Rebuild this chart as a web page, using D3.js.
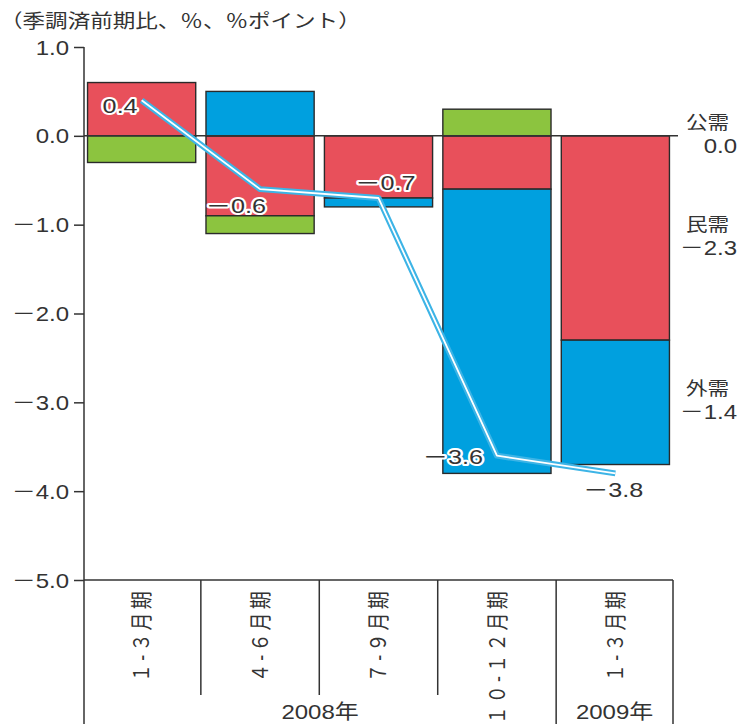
<!DOCTYPE html>
<html>
<head>
<meta charset="utf-8">
<script src="https://cdn.jsdelivr.net/npm/d3@7"></script>
<style>
  html, body { margin: 0; padding: 0; background: #fff; }
  svg { display: block; }
  text { fill: #333; font-family: "Liberation Sans", "Noto Sans CJK JP", sans-serif; }
</style>
</head>
<body>
<svg id="chart" width="744" height="724"></svg>
<script>
// Quarterly GDP growth and contributions by demand component
const periodKeys   = ["2008Q1", "2008Q2", "2008Q3", "2008Q4", "2009Q1"];
const periodLabels = ["１-３月期", "４-６月期", "７-９月期", "１０-１２月期", "１-３月期"];
const yearLabels   = ["2008年", "2009年"];
const yearSpans    = [[0, 3], [4, 4]];

const privateDemand  = [0.6, -0.9, -0.7, -0.6, -2.3];  // 民需
const externalDemand = [0.0,  0.5, -0.1, -3.2, -1.4];  // 外需
const publicDemand   = [-0.3, -0.2, 0.0,  0.3,  0.0];  // 公需
const gdpGrowth      = [0.4, -0.6, -0.7, -3.6, -3.8];  // 実質GDP成長率

const seriesNames = ["民需", "外需", "公需"];
const yTicks = [1, 0, -1, -2, -3, -4, -5];
const titleText = "（季調済前期比、％、％ポイント）";

// styling / layout
const colors = { "民需": "#e8505b", "外需": "#00a0df", "公需": "#8cc43f" };
const lineColor = "#3db4e6";
const ink = "#333";
const SX = 1.2; // horizontal text stretch
const labelOffsets = [[-4, 13], [6, 24], [37, -8], [-14, 8], [28, 24]];

const svg = d3.select("#chart");

const x = d3.scaleBand().domain(periodKeys).range([84, 673])
  .paddingInner(0.0867).paddingOuter(0.03);
const y = d3.scaleLinear().domain([-5, 1]).range([580, 47]);

const fmt = v => {
  const s = d3.format(".1f")(Math.abs(v) < 1e-9 ? 0 : v);
  return s.replace("−", "－").replace("-", "－");
};

function stretchedText(g, tx, ty, str, size, anchor) {
  return g.append("text")
    .attr("transform", `translate(${tx},${ty}) scale(${SX},1)`)
    .attr("font-size", size)
    .attr("text-anchor", anchor || "start")
    .text(str);
}

// stacked bars (positives above zero, negatives below)
const rows = periodKeys.map((k, i) => ({
  key: k,
  "民需": privateDemand[i],
  "外需": externalDemand[i],
  "公需": publicDemand[i]
}));
const stacked = d3.stack().keys(seriesNames).offset(d3.stackOffsetDiverging)(rows);

const barG = svg.append("g");
stacked.forEach(layer => {
  barG.selectAll(null)
    .data(layer.filter(d => Math.abs(d[1] - d[0]) > 1e-9))
    .join("rect")
    .attr("x", d => x(d.data.key))
    .attr("width", x.bandwidth())
    .attr("y", d => y(Math.max(d[0], d[1])))
    .attr("height", d => Math.abs(y(d[0]) - y(d[1])))
    .attr("fill", colors[layer.key])
    .attr("stroke", "#2a2a2a")
    .attr("stroke-width", 1.4);
});

// zero line
svg.append("line")
  .attr("x1", 84).attr("x2", 678)
  .attr("y1", y(0)).attr("y2", y(0))
  .attr("stroke", ink).attr("stroke-width", 1.5);

// y axis
const axisG = svg.append("g").attr("transform", "translate(84,0)")
  .call(d3.axisLeft(y).tickValues(yTicks).tickSize(10).tickPadding(6).tickFormat(fmt));
axisG.select(".domain").remove();
axisG.selectAll(".tick line").attr("stroke", ink).attr("stroke-width", 1.5);
axisG.selectAll(".tick text").remove();
axisG.selectAll(".tick").each(function (d) {
  stretchedText(d3.select(this), -15, 7, fmt(d), 20, "end");
});
svg.append("line")
  .attr("x1", 84).attr("x2", 84).attr("y1", y(1)).attr("y2", 724)
  .attr("stroke", ink).attr("stroke-width", 1.5);

// category table under the plot
const step = x.step();
const gap = step * x.paddingInner();
const right = x(periodKeys[periodKeys.length - 1]) + x.bandwidth() + step * x.paddingOuter();
svg.append("line")
  .attr("x1", 84).attr("x2", right).attr("y1", y(-5)).attr("y2", y(-5))
  .attr("stroke", ink).attr("stroke-width", 1.5);
const boundaries = periodKeys.slice(1).map(k => x(k) - gap / 2);
boundaries.forEach((bx, i) => {
  const yearEdge = yearSpans.some(s => s[0] === i + 1);
  svg.append("line")
    .attr("x1", bx).attr("x2", bx)
    .attr("y1", y(-5)).attr("y2", yearEdge ? 724 : 695)
    .attr("stroke", ink).attr("stroke-width", 1.5);
});
svg.append("line")
  .attr("x1", right).attr("x2", right).attr("y1", y(-5)).attr("y2", 724)
  .attr("stroke", ink).attr("stroke-width", 1.5);

periodKeys.forEach((k, i) => {
  const cx = x(k) + x.bandwidth() / 2;
  svg.append("text")
    .attr("transform", `translate(${cx},588) scale(${SX},1) rotate(-90)`)
    .attr("font-family", "Noto Sans CJK JP")
    .attr("font-size", 18)
    .attr("text-anchor", "end")
    .attr("dy", "0.35em")
    .attr("letter-spacing", 3.2)
    .text(periodLabels[i]);
});

const edges = [84, ...boundaries, right];
yearLabels.forEach((lab, i) => {
  const [a, b] = yearSpans[i];
  const cx = (edges[a] + edges[b + 1]) / 2;
  stretchedText(svg, cx, 719, lab, 20, "middle");
});

// growth line: blue band with a thin white core
const pts = periodKeys.map((k, i) => [x(k) + x.bandwidth() / 2, y(gdpGrowth[i])]);
const line = d3.line();
svg.append("path").attr("d", line(pts))
  .attr("fill", "none").attr("stroke", lineColor).attr("stroke-width", 6)
  .attr("stroke-linejoin", "round");
svg.append("path").attr("d", line(pts))
  .attr("fill", "none").attr("stroke", "#fff").attr("stroke-width", 1.8)
  .attr("stroke-linejoin", "round");

pts.forEach((p, i) => {
  const [dx, dy] = labelOffsets[i];
  stretchedText(svg, p[0] + dx, p[1] + dy, fmt(gdpGrowth[i]), 21, "end")
    .attr("stroke", "#fff").attr("stroke-width", 4)
    .attr("stroke-linejoin", "round")
    .attr("paint-order", "stroke");
});

// legend at the right of the last bar
const last = stacked.map(layer => layer[layer.length - 1]);
const lastValues = { "民需": privateDemand[4], "外需": externalDemand[4], "公需": publicDemand[4] };
stacked.forEach((layer, li) => {
  const d = last[li];
  const cy = y((d[0] + d[1]) / 2) - 3;
  stretchedText(svg, 686, cy - 4, layer.key, 18, "start").attr("font-family", "Noto Sans CJK JP");
  stretchedText(svg, 737, cy + 20, fmt(lastValues[layer.key]), 20, "end");
});

// unit note
stretchedText(svg, 0, 28, titleText, 18.8, "start").attr("font-family", "Noto Sans CJK JP");
</script>
</body>
</html>
